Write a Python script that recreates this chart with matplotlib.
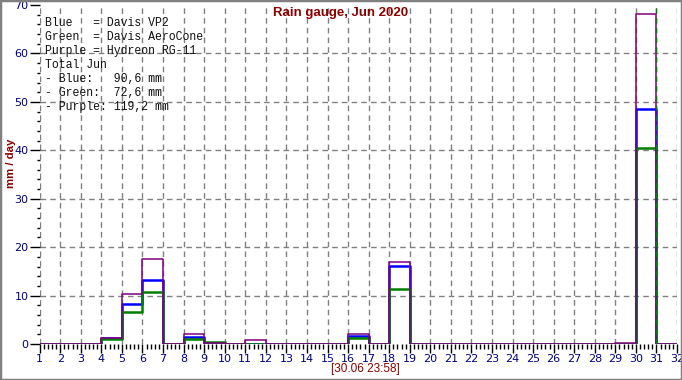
import matplotlib
matplotlib.use("Agg")
import matplotlib.pyplot as plt
from matplotlib.ticker import MultipleLocator

days = list(range(1, 32))
blue = [0, 0, 0, 1.3, 8.3, 13.2, 0, 1.45, 0.2, 0, 0, 0, 0, 0, 0, 1.65, 0, 16.2, 0, 0,
        0, 0, 0, 0, 0, 0, 0, 0, 0, 48.6, 0]
green = [0, 0, 0, 1.0, 6.7, 10.7, 0, 1.0, 0.5, 0, 0, 0, 0, 0, 0, 1.3, 0, 11.4, 0, 0,
         0, 0, 0, 0, 0, 0, 0, 0, 0, 40.4, 0]
purple = [0, 0, 0, 1.2, 10.3, 17.5, 0, 2.1, 0.2, 0, 0.75, 0, 0, 0, 0, 2.0, 0, 16.9, 0, 0,
          0, 0, 0, 0, 0, 0, 0, 0, 0.15, 68.1, 0]
x_ticks = list(range(1, 33))
y_ticks = list(range(0, 71, 10))
now_marker = 30.9986
title = "Rain gauge, Jun 2020"
ylabel = "mm / day"
stamp = "[30.06 23:58]"
legend_lines = [
    "Blue   = Davis VP2",
    "Green  = Davis AeroCone",
    "Purple = Hydreon RG-11",
    "Total Jun",
    "- Blue:   90,6 mm",
    "- Green:  72,6 mm",
    "- Purple: 119,2 mm",
]

fig = plt.figure(figsize=(6.82, 3.80), dpi=100)
ax = fig.add_axes([0.0582, 0.0947, 0.9345, 0.8921])

xs = days + [days[-1] + 1]
def ext(v):
    return list(v) + [v[-1]]

ax.step(xs, ext(blue), where="post", color="#0000FF", lw=1.8, zorder=3)
ax.step(xs, ext(green), where="post", color="#008000", lw=1.8, zorder=4)
ax.step(xs, ext(purple), where="post", color="#800080", lw=1.1, zorder=5)
ax.axvline(now_marker, color="#008000", lw=1.0, ls=(0, (4, 3)), zorder=6)

ax.set_xlim(1, 32)
ax.set_ylim(0, 70)
ax.set_xticks(x_ticks)
ax.set_yticks(y_ticks)
ax.xaxis.set_minor_locator(MultipleLocator(0.2))
ax.yaxis.set_minor_locator(MultipleLocator(2))
for s in ax.spines.values():
    s.set_visible(False)
ax.tick_params(axis="x", which="major", direction="out", length=6.5, width=1, color="black",
               labelcolor="#000080", labelsize=8, pad=1)
ax.tick_params(axis="x", which="minor", direction="out", length=3.6, width=1, color="black")
ax.tick_params(axis="y", which="major", direction="out", length=7, width=1, color="black",
               labelcolor="#000080", labelsize=8, pad=1)
ax.tick_params(axis="y", which="minor", direction="out", length=2.2, width=1, color="black")

ax.grid(True, which="major", color="#808080", ls=(0, (4, 3)), lw=1.0)
ax.set_axisbelow(True)
gly = ax.yaxis.get_gridlines()
gly[0].set_visible(False)
gly[-1].set_visible(False)

for i, line in enumerate(legend_lines):
    fig.text(45 / 682, 1 - (22.5 + i * 14.1) / 380, line, family="Liberation Mono",
             fontsize=8.3, color="#111111", va="center", ha="left")

fig.text(341 / 682, 1 - 13 / 380, title, ha="center", va="center", fontsize=9.5,
         fontweight="bold", color="#8B0000", family="Liberation Sans")
fig.text(11.5 / 682, 1 - 163 / 380, ylabel, ha="center", va="center", rotation=90,
         fontsize=8.2, fontweight="bold", color="#8B0000", family="Liberation Sans")
fig.text(365 / 682, 1 - 369 / 380, stamp, ha="center", va="center", fontsize=8.5,
         color="#8B0000", family="Liberation Sans")

fig.patches.append(plt.Rectangle((0, 0), 1, 1, transform=fig.transFigure, fill=False,
                                 edgecolor="#808080", lw=2.5, zorder=10))

fig.savefig("out.png", dpi=100)
